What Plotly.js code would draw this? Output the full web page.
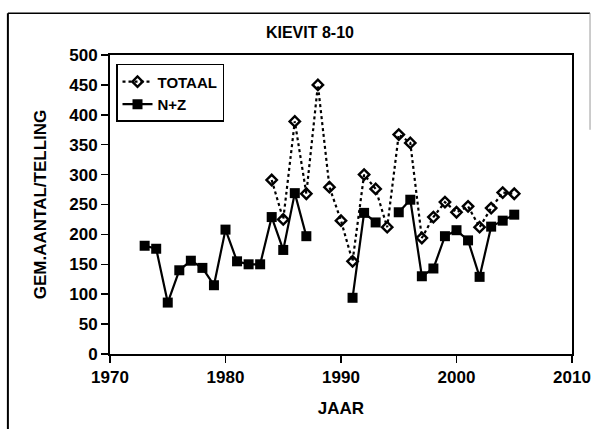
<!DOCTYPE html>
<html>
<head>
<meta charset="utf-8">
<script src="https://cdn.plot.ly/plotly-3.0.1.min.js"></script>
<style>html,body{margin:0;padding:0;background:#fff;}#chart{width:596px;height:429px;}</style>
</head>
<body>
<div id="chart"></div>
<script>
var years = [1973,1974,1975,1976,1977,1978,1979,1980,1981,1982,1983,1984,1985,1986,1987,1988,1989,1990,1991,1992,1993,1994,1995,1996,1997,1998,1999,2000,2001,2002,2003,2004,2005];
var totaal = [null,null,null,null,null,null,null,null,null,null,null,291,225,389,268,450,279,223,155,300,276,212,367,353,194,229,254,237,247,212,244,270,268];
var nz = [181,176,86,140,156,144,115,208,155,150,150,229,174,269,197,null,null,null,94,236,220,null,237,258,130,143,197,207,190,129,213,223,233];
var xTicks = [1970,1980,1990,2000,2010];
var yTicks = [0,50,100,150,200,250,300,350,400,450,500];

var F = 'Liberation Sans, Arial, sans-serif';
var traces = [
  {x: years, y: totaal, name: 'TOTAAL', mode: 'lines+markers', connectgaps: false,
   line: {color: '#000', width: 2.2, dash: 'dot'},
   marker: {symbol: 'diamond-open', size: 8, color: '#000', line: {width: 2.4, color: '#000'}}},
  {x: years, y: nz, name: 'N+Z', mode: 'lines+markers', connectgaps: false,
   line: {color: '#000', width: 2.2},
   marker: {symbol: 'square', size: 10, color: '#000'}}
];
var layout = {
  width: 596, height: 429,
  margin: {l: 110, r: 24, t: 55, b: 75},
  paper_bgcolor: '#fff', plot_bgcolor: '#fff',
  showlegend: true,
  title: {text: 'KIEVIT 8-10', font: {family: F, size: 16, color: '#000', weight: 'bold'}, x: 0.52, xanchor: 'center', y: 0.925, yanchor: 'middle'},
  xaxis: {range: [1970, 2010], tickvals: xTicks, ticktext: xTicks.map(String),
    showgrid: false, zeroline: false, showline: true, linecolor: '#000', linewidth: 2, mirror: true,
    ticks: 'outside', ticklen: 7, tickwidth: 1.5, tickcolor: '#000',
    tickfont: {family: F, size: 17, color: '#000', weight: 'bold'},
    title: {text: 'JAAR', font: {family: F, size: 17, color: '#000', weight: 'bold'}, standoff: 16}},
  yaxis: {range: [0, 500], tickvals: yTicks, ticktext: yTicks.map(String),
    showgrid: false, zeroline: false, showline: true, linecolor: '#000', linewidth: 2, mirror: true,
    ticks: 'outside', ticklen: 7, tickwidth: 1.5, tickcolor: '#000',
    tickfont: {family: F, size: 17, color: '#000', weight: 'bold'},
    title: {text: 'GEM.AANTAL/TELLING', font: {family: F, size: 17, color: '#000', weight: 'bold'}, standoff: 18}},
  legend: {x: 0.013, y: 0.97, xanchor: 'left', yanchor: 'top', bgcolor: '#fff',
    bordercolor: '#000', borderwidth: 1.5,
    font: {family: F, size: 15, color: '#000', weight: 'bold'}, tracegroupgap: 4},
  shapes: [
    {type: 'line', xref: 'paper', yref: 'paper', x0: -0.221, x1: -0.221, y0: -0.26, y1: 1.14, line: {color: '#000', width: 2}},
    {type: 'line', xref: 'paper', yref: 'paper', x0: -0.221, x1: 1.039, y0: 1.14, y1: 1.14, line: {color: '#000', width: 1.5}},
    {type: 'line', xref: 'paper', yref: 'paper', x0: 1.039, x1: 1.039, y0: 1.14, y1: 0.75, line: {color: '#999', width: 1}}
  ]
};
Plotly.newPlot('chart', traces, layout, {displayModeBar: false, staticPlot: true});
</script>
</body>
</html>
